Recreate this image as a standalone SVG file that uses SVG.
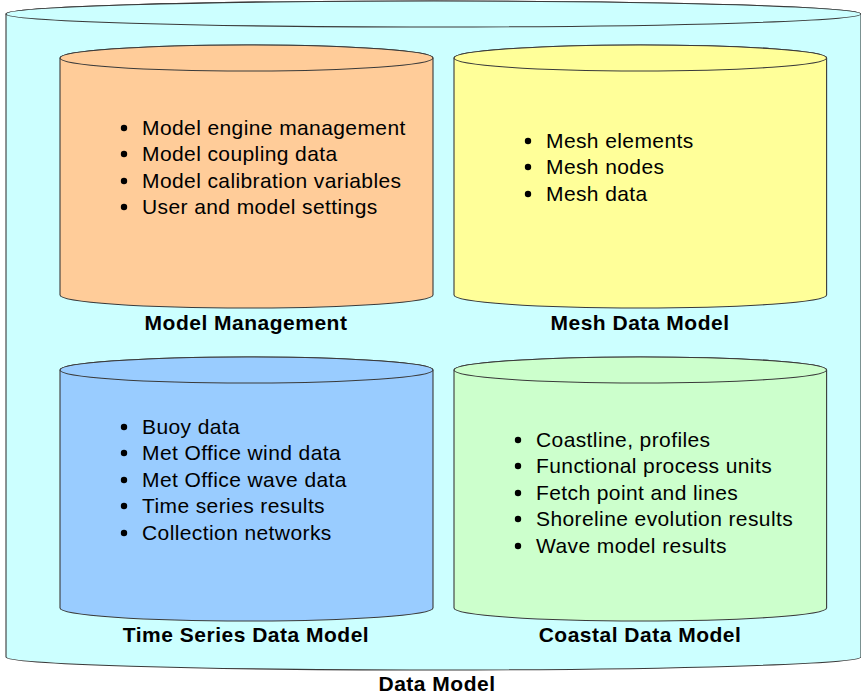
<svg xmlns="http://www.w3.org/2000/svg" width="861" height="694" viewBox="0 0 861 694">
<style>
.cyl{stroke:#3a3a3a;stroke-width:1.1}
.lbl{font-family:"Liberation Sans",Arial,sans-serif;font-weight:bold;font-size:21px;letter-spacing:0.5px;fill:#000;text-anchor:middle}
.itm{font-family:"Liberation Sans",Arial,sans-serif;font-size:21px;letter-spacing:0.4px;fill:#000}
.bul{fill:#000}
</style>
<rect width="861" height="694" fill="#fff"/>
<g id="data-model">
<path class="cyl" fill="#CCFFFF" d="M6,14 L6,657 A427.5,13 0 0 0 861,657 L861,14 A427.5,13 0 0 0 6,14 Z"/>
<ellipse class="cyl" fill="#CCFFFF" cx="433.5" cy="14" rx="427.5" ry="13"/>
<text class="lbl" x="437" y="691">Data Model</text>
</g>
<g id="model-management">
<path class="cyl" fill="#FFCC99" d="M60,58 L60,295 A186.5,13 0 0 0 433,295 L433,58 A186.5,13 0 0 0 60,58 Z"/>
<ellipse class="cyl" fill="#FFCC99" cx="246.5" cy="58" rx="186.5" ry="13"/>
<text class="lbl" x="246" y="330">Model Management</text>
<circle class="bul" cx="124" cy="128" r="3.2"/><text class="itm" x="142" y="135">Model engine management</text>
<circle class="bul" cx="124" cy="154" r="3.2"/><text class="itm" x="142" y="161">Model coupling data</text>
<circle class="bul" cx="124" cy="181" r="3.2"/><text class="itm" x="142" y="188">Model calibration variables</text>
<circle class="bul" cx="124" cy="207" r="3.2"/><text class="itm" x="142" y="214">User and model settings</text>
</g>
<g id="mesh-data-model">
<path class="cyl" fill="#FFFF99" d="M454,58 L454,295 A186.3,13 0 0 0 826.6,295 L826.6,58 A186.3,13 0 0 0 454,58 Z"/>
<ellipse class="cyl" fill="#FFFF99" cx="640.3" cy="58" rx="186.3" ry="13"/>
<text class="lbl" x="640" y="330">Mesh Data Model</text>
<circle class="bul" cx="528" cy="141" r="3.2"/><text class="itm" x="546" y="148">Mesh elements</text>
<circle class="bul" cx="528" cy="167" r="3.2"/><text class="itm" x="546" y="174">Mesh nodes</text>
<circle class="bul" cx="528" cy="194" r="3.2"/><text class="itm" x="546" y="201">Mesh data</text>
</g>
<g id="time-series-data-model">
<path class="cyl" fill="#99CCFF" d="M60,370 L60,608 A186.5,13 0 0 0 433,608 L433,370 A186.5,13 0 0 0 60,370 Z"/>
<ellipse class="cyl" fill="#99CCFF" cx="246.5" cy="370" rx="186.5" ry="13"/>
<text class="lbl" x="246" y="642">Time Series Data Model</text>
<circle class="bul" cx="124" cy="427" r="3.2"/><text class="itm" x="142" y="434">Buoy data</text>
<circle class="bul" cx="124" cy="453" r="3.2"/><text class="itm" x="142" y="460">Met Office wind data</text>
<circle class="bul" cx="124" cy="480" r="3.2"/><text class="itm" x="142" y="487">Met Office wave data</text>
<circle class="bul" cx="124" cy="506" r="3.2"/><text class="itm" x="142" y="513">Time series results</text>
<circle class="bul" cx="124" cy="533" r="3.2"/><text class="itm" x="142" y="540">Collection networks</text>
</g>
<g id="coastal-data-model">
<path class="cyl" fill="#CCFFCC" d="M454,370 L454,608 A186.3,13 0 0 0 826.6,608 L826.6,370 A186.3,13 0 0 0 454,370 Z"/>
<ellipse class="cyl" fill="#CCFFCC" cx="640.3" cy="370" rx="186.3" ry="13"/>
<text class="lbl" x="640" y="642">Coastal Data Model</text>
<circle class="bul" cx="518" cy="440" r="3.2"/><text class="itm" x="536" y="447">Coastline, profiles</text>
<circle class="bul" cx="518" cy="466" r="3.2"/><text class="itm" x="536" y="473">Functional process units</text>
<circle class="bul" cx="518" cy="493" r="3.2"/><text class="itm" x="536" y="500">Fetch point and lines</text>
<circle class="bul" cx="518" cy="519" r="3.2"/><text class="itm" x="536" y="526">Shoreline evolution results</text>
<circle class="bul" cx="518" cy="546" r="3.2"/><text class="itm" x="536" y="553">Wave model results</text>
</g>
<g id="connectors"/>
</svg>
